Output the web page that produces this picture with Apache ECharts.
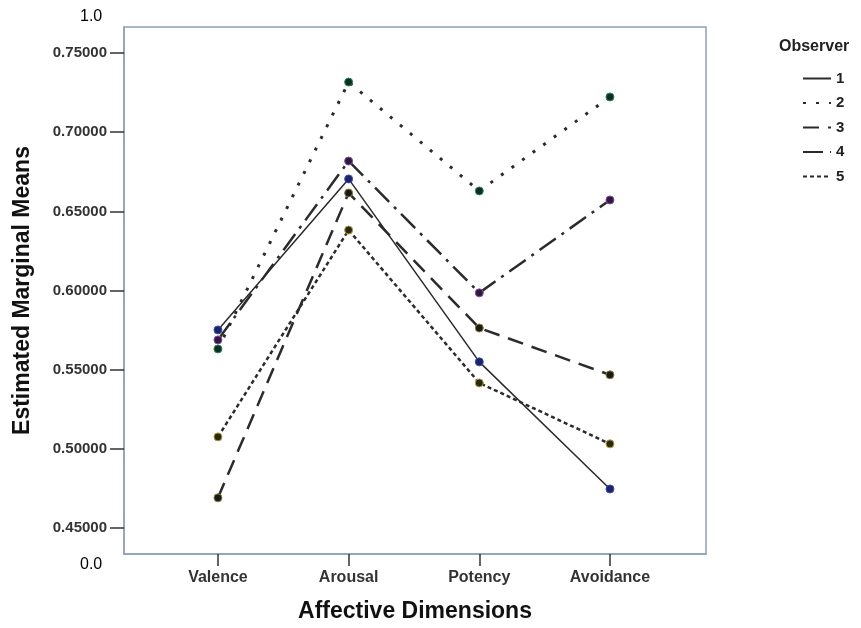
<!DOCTYPE html>
<html>
<head>
<meta charset="utf-8">
<script src="https://cdn.jsdelivr.net/npm/echarts@6/dist/echarts.min.js"></script>
<style>
  html, body { margin: 0; padding: 0; background: #fff; }
  #chart { width: 861px; height: 628px; }
</style>
</head>
<body>
<div id="chart"></div>
<script>
  // categories on the x axis
  var dims = ['Valence', 'Arousal', 'Potency', 'Avoidance'];
  var yTicks = [0.45, 0.50, 0.55, 0.60, 0.65, 0.70, 0.75];
  var observers = ['1', '2', '3', '4', '5'];

  // estimated marginal means per observer
  var obs1 = [0.5751, 0.6705, 0.5549, 0.4746];
  var obs2 = [0.5631, 0.7317, 0.6629, 0.7223];
  var obs3 = [0.4690, 0.6616, 0.5763, 0.5467];
  var obs4 = [0.5688, 0.6818, 0.5985, 0.6572];
  var obs5 = [0.5075, 0.6382, 0.5416, 0.5031];

  var font = "'Liberation Sans', Arial, sans-serif";

  // line look per observer (SPSS style patterns)
  var styles = [
    {dash: 'solid', width: 1.5, fill: '#1c2466', rim: '#3a4fb0'},
    {dash: [3, 10], width: 3, fill: '#0d2e20', rim: '#2e8a5a'},
    {dash: [16, 9], width: 2.5, fill: '#1a1a1a', rim: '#8a8030'},
    {dash: [20, 7, 3, 7], width: 2.5, fill: '#2e1a3e', rim: '#8a4aa0'},
    {dash: [4, 3], width: 2.5, fill: '#2a2812', rim: '#b0a040'}
  ];

  function pairs(vals) {
    return vals.map(function (v, i) { return [i, v]; });
  }

  var allObs = [obs1, obs2, obs3, obs4, obs5];
  var series = allObs.map(function (vals, k) {
    var s = styles[k];
    return {
      name: observers[k],
      type: 'line',
      data: pairs(vals),
      symbol: 'circle',
      symbolSize: 8,
      itemStyle: {color: s.fill, borderColor: s.rim, borderWidth: 1},
      lineStyle: {color: '#2b2b2b', width: s.width, type: s.dash},
      emphasis: {disabled: true},
      z: 5 - k
    };
  });

  var chart = echarts.init(document.getElementById('chart'));
  chart.setOption({
    animation: false,
    backgroundColor: '#fff',
    textStyle: {fontFamily: font},
    grid: {
      left: 124, right: 155, top: 27, bottom: 74,
      show: true, borderColor: '#8fa1b3', borderWidth: 1.5
    },
    legend: {
      orient: 'vertical',
      left: 797, top: 66,
      itemWidth: 28, itemHeight: 14, itemGap: 9.5,
      itemStyle: {opacity: 0},
      textStyle: {fontFamily: font, fontWeight: 'bold', fontSize: 15, color: '#222'},
      data: observers
    },
    graphic: [
      {type: 'text', left: 779, top: 39,
       style: {text: 'Observer', font: 'bold 16px ' + font, fill: '#222'}},
      {type: 'text', left: 80, top: 9,
       style: {text: '1.0', font: '16px ' + font, fill: '#000'}},
      {type: 'text', left: 80, top: 557,
       style: {text: '0.0', font: '16px ' + font, fill: '#000'}}
    ],
    xAxis: {
      type: 'value',
      min: -0.719, max: 3.735,
      name: 'Affective Dimensions',
      nameLocation: 'middle',
      nameGap: 46,
      nameTextStyle: {fontFamily: font, fontWeight: 'bold', fontSize: 23, color: '#111'},
      axisLine: {show: true, onZero: false, lineStyle: {color: '#8fa1b3', width: 1.5}},
      axisTick: {show: true, length: 12, customValues: [0, 1, 2, 3],
                 lineStyle: {color: '#333', width: 1.5}},
      axisLabel: {customValues: [0, 1, 2, 3], margin: 16,
                  fontFamily: font, fontWeight: 'bold', fontSize: 16, color: '#333',
                  formatter: function (v) { return dims[v]; }},
      splitLine: {show: false}
    },
    yAxis: {
      type: 'value',
      min: 0.4335, max: 0.7665,
      name: 'Estimated Marginal Means',
      nameLocation: 'middle',
      nameGap: 90,
      nameTextStyle: {fontFamily: font, fontWeight: 'bold', fontSize: 23, color: '#111'},
      axisLine: {show: true, onZero: false, lineStyle: {color: '#8fa1b3', width: 1.5}},
      axisTick: {show: true, length: 14, customValues: yTicks,
                 lineStyle: {color: '#333', width: 1.5}},
      axisLabel: {customValues: yTicks, margin: 17,
                  fontFamily: font, fontWeight: 'bold', fontSize: 15, color: '#333',
                  formatter: function (v) { return v.toFixed(5); }},
      splitLine: {show: false}
    },
    series: series
  });
</script>
</body>
</html>
